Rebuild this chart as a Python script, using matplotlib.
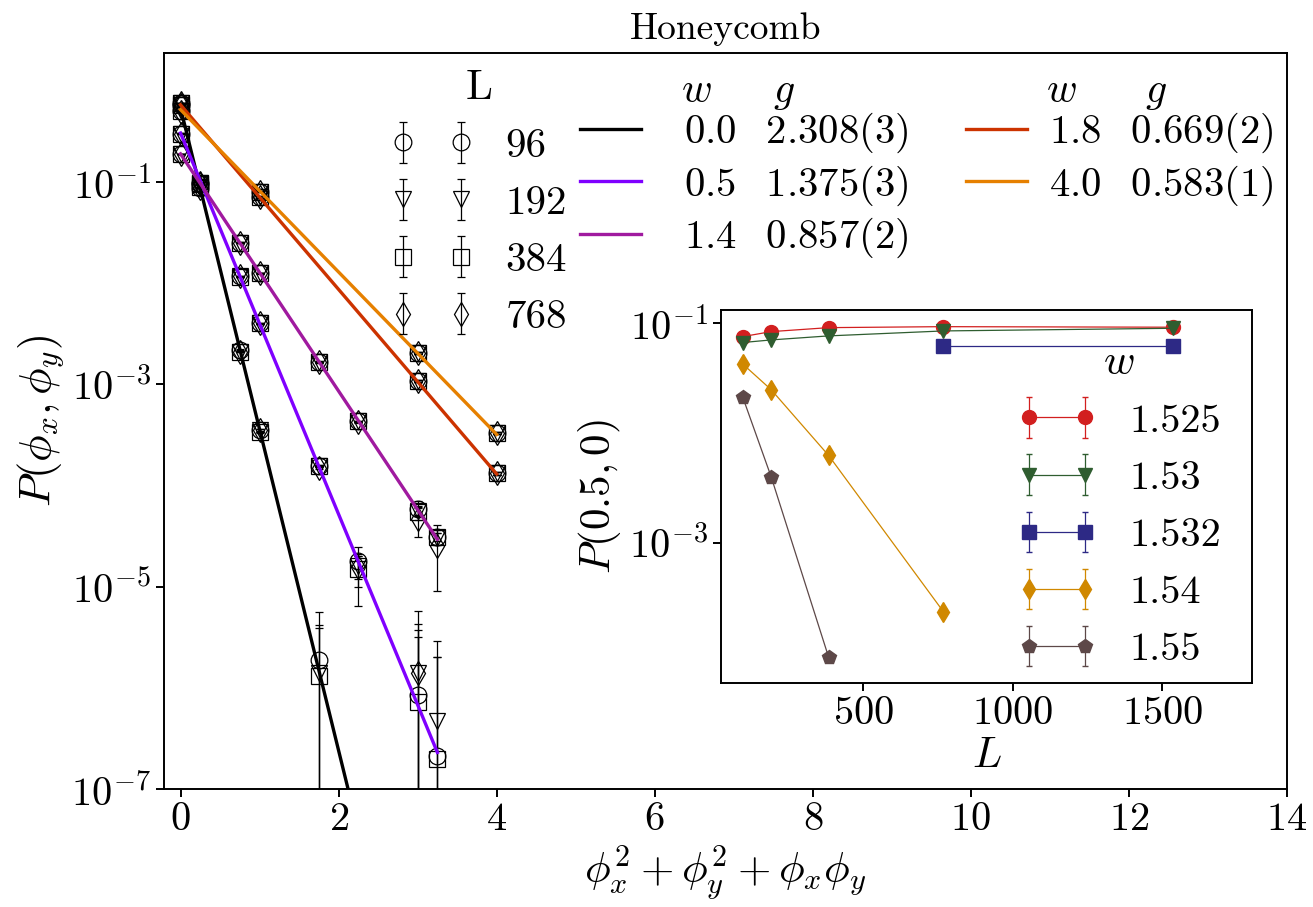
import numpy as np
import matplotlib
matplotlib.use('Agg')
import matplotlib.pyplot as plt
from matplotlib.ticker import FixedLocator, NullLocator

plt.rcParams['font.family'] = 'serif'
plt.rcParams['font.serif'] = ['cmr10']
plt.rcParams['mathtext.fontset'] = 'cm'
plt.rcParams['axes.unicode_minus'] = False
plt.rcParams['axes.formatter.use_mathtext'] = True

# ---- main plot data: P(phi_x, phi_y) for the different L (rows) ----
L_sizes = [96, 192, 384, 768]
L_markers = ['o', 'v', 's', 'd']

x_w00 = [0.0, 0.25, 0.75, 1.0, 1.75]
p_w00 = [[0.50, 0.088, 2.2e-3, 3.5e-4, 1.9e-6],
         [0.50, 0.088, 2.1e-3, 3.5e-4, 1.4e-6],
         [0.50, 0.089, 2.1e-3, 3.4e-4, 1.3e-6],
         [0.49, 0.088, 2.1e-3, 3.5e-4, np.nan]]
e_w00 = [[0.002, 0.001, 3e-5, 8e-6, 3.7e-6],
         [0.002, 0.001, 3e-5, 8e-6, 2.8e-6],
         [0.002, 0.001, 3e-5, 8e-6, 2.6e-6],
         [0.002, 0.001, 3e-5, 8e-6, np.nan]]

x_w05 = [0.0, 0.25, 0.75, 1.0, 1.75, 2.25, 3.0, 3.25]
p_w05 = [[0.30, 0.095, 0.0117, 4.0e-3, 1.55e-4, 1.8e-5, 8.5e-7, 2.1e-7],
         [0.30, 0.095, 0.0117, 4.0e-3, 1.55e-4, 1.6e-5, 1.4e-6, 4.7e-7],
         [0.30, 0.095, 0.0116, 4.0e-3, 1.55e-4, 1.5e-5, 7.3e-7, 2.0e-7],
         [0.30, 0.096, 0.0117, 4.0e-3, 1.50e-4, 1.55e-5, 1.4e-6, np.nan]]
e_w05 = [[0.002, 0.001, 2e-4, 6e-5, 4e-6, 3e-6, 4.85e-6, 1.8e-6],
         [0.002, 0.001, 2e-4, 6e-5, 4e-6, 4e-6, 2.9e-6, 2.45e-6],
         [0.002, 0.001, 2e-4, 6e-5, 4e-6, 5e-6, 3.0e-6, 1.8e-6],
         [0.002, 0.001, 2e-4, 6e-5, 5e-6, 9e-6, 1.8e-6, np.nan]]

x_w14 = [0.0, 0.25, 0.75, 1.0, 1.75, 2.25, 3.0, 3.25]
p_w14 = [[0.19, 0.098, 0.025, 0.0126, 1.68e-3, 4.3e-4, 5.8e-5, 3.1e-5],
         [0.19, 0.097, 0.025, 0.0126, 1.68e-3, 4.3e-4, 5.6e-5, 3.0e-5],
         [0.19, 0.098, 0.025, 0.0125, 1.66e-3, 4.3e-4, 5.5e-5, 3.1e-5],
         [0.19, 0.097, 0.025, 0.0126, 1.65e-3, 4.2e-4, 4.7e-5, 2.5e-5]]
e_w14 = [[0.001, 0.001, 3e-4, 1e-4, 2e-5, 6e-6, 1.2e-5, 3e-6],
         [0.001, 0.001, 3e-4, 1e-4, 2e-5, 6e-6, 5e-6, 4e-6],
         [0.001, 0.001, 3e-4, 1e-4, 2e-5, 6e-6, 5e-6, 5e-6],
         [0.001, 0.001, 3e-4, 1e-4, 3e-5, 8e-6, 1.6e-5, 1.6e-5]]

x_w18 = [0.0, 1.0, 3.0, 4.0]
p_w18 = [[0.60, 0.071, 1.08e-3, 1.32e-4]] * 4
e_w18 = [[0.003, 0.001, 2e-5, 4e-6]] * 4

x_w40 = [0.0, 1.0, 3.0, 4.0]
p_w40 = [[0.58, 0.080, 2.04e-3, 3.3e-4]] * 4
e_w40 = [[0.003, 0.001, 3e-5, 8e-6]] * 4

# fitted lines (end points)
w_labels = ['0.0', '0.5', '1.4', '1.8', '4.0']
g_labels = ['2.308(3)', '1.375(3)', '0.857(2)', '0.669(2)', '0.583(1)']
fit_colors = ['black', '#7f00ff', '#a01a9f', '#cc3300', '#e68000']
fit_x = [[0.0, 2.12], [0.0, 3.25], [0.0, 3.25], [0.0, 4.0], [0.0, 4.0]]
fit_p = [[0.54, 1e-7], [0.305, 2.3e-7], [0.19, 2.94e-5], [0.58, 1.3e-4], [0.52, 3.2e-4]]

# ---- inset data: P(0.5, 0) vs L ----
inset_w = ['1.525', '1.53', '1.532', '1.54', '1.55']
inset_colors = ['#d21f1f', '#2f5d30', '#2d2985', '#d08800', '#5d4848']
inset_markers = ['o', 'v', 's', 'd', 'p']
L_1525 = [96, 192, 384, 768, 1536]
p_1525 = [0.0755, 0.0839, 0.0912, 0.0931, 0.092]
L_153 = [96, 192, 384, 768, 1536]
p_153 = [0.0667, 0.0705, 0.0767, 0.0851, 0.090]
L_1532 = [768, 1536]
p_1532 = [0.0622, 0.0622]
L_154 = [96, 192, 384, 768]
p_154 = [0.0427, 0.0248, 0.00625, 2.36e-4]
L_155 = [96, 192, 384]
p_155 = [0.0215, 0.00398, 9.1e-5]
e_1525 = [1e-3, 1e-3, 1e-3, 1e-3, 1e-3]
e_153 = [1e-3, 1e-3, 1e-3, 1e-3, 1e-3]
e_1532 = [1e-3, 1e-3]
e_154 = [5e-4, 3e-4, 8e-5, 5e-6]
e_155 = [3e-4, 6e-5, 8e-6]

W, H = 1313, 907
fig = plt.figure(figsize=(W / 100, H / 100), dpi=100)
ax = fig.add_axes([164 / W, 1 - 789 / H, (1287 - 164) / W, (789 - 52.7) / H])

L_handles = []
for k, (xs, ps, es) in enumerate([(x_w00, p_w00, e_w00), (x_w05, p_w05, e_w05),
                                  (x_w14, p_w14, e_w14), (x_w18, p_w18, e_w18),
                                  (x_w40, p_w40, e_w40)]):
    for i, L in enumerate(L_sizes):
        h = ax.errorbar(xs, ps[i], yerr=es[i], fmt=L_markers[i], ls='none',
                        mfc='none', mec='k', ecolor='k', ms=12, mew=0.9,
                        elinewidth=0.9, capsize=3, capthick=0.9, zorder=2)
        if k == 0:
            L_handles.append(h)

fit_handles = []
for fx, fp, c in zip(fit_x, fit_p, fit_colors):
    ln, = ax.plot(fx, fp, color=c, lw=2.4, zorder=5)
    fit_handles.append(ln)

ax.set_yscale('log')
ax.set_xlim(-0.209, 14)
ax.set_ylim(1e-7, 1.9)
ax.yaxis.set_major_locator(FixedLocator([1e-7, 1e-5, 1e-3, 1e-1]))
ax.yaxis.set_minor_locator(NullLocator())
ax.set_xticks([0, 2, 4, 6, 8, 10, 12, 14])
ax.tick_params(labelsize=29, length=6, width=1.4)
for s in ax.spines.values():
    s.set_linewidth(1.4)
ax.set_xlabel(r'$\phi_x^2+\phi_y^2+\phi_x\phi_y$', fontsize=31)
ax.set_ylabel(r'$P(\phi_x,\phi_y)$', fontsize=32)
ax.set_title('Honeycomb', fontsize=27, pad=10)

leg_L = ax.legend(L_handles, [str(L) for L in L_sizes], title='L', loc='upper left',
                  bbox_to_anchor=(391 / W, 1 - 70 / H), bbox_transform=fig.transFigure,
                  frameon=False, fontsize=29.5, title_fontsize=31, numpoints=2,
                  borderpad=0, borderaxespad=0, labelspacing=0.5)
ax.add_artist(leg_L)

lab = [r'$%s\;\;\;%s$' % (w, g) for w, g in zip(w_labels, g_labels)]
leg_a = ax.legend(fit_handles[:3], lab[:3], loc='upper left',
                  bbox_to_anchor=(580 / W, 1 - 111 / H), bbox_transform=fig.transFigure,
                  frameon=False, fontsize=29.3, handlelength=1.5,
                  handletextpad=1.05, borderpad=0, borderaxespad=0, labelspacing=0.2)
ax.add_artist(leg_a)
leg_b = ax.legend(fit_handles[3:], lab[3:], loc='upper left',
                  bbox_to_anchor=(966 / W, 1 - 111 / H), bbox_transform=fig.transFigure,
                  frameon=False, fontsize=29.3, handlelength=1.5,
                  handletextpad=0.55, borderpad=0, borderaxespad=0, labelspacing=0.2)
# column headers of the w / g legends
for hx, ht in [(681, '$w$'), (773, '$g$'), (1046, '$w$'), (1145, '$g$')]:
    fig.text(hx / W, 1 - 102 / H, ht, fontsize=30, ha='left', va='baseline')

# ---- inset ----
axi = fig.add_axes([721 / W, 1 - 683 / H, (1252 - 721) / W, (683 - 310) / H])
in_handles = []
for Ls, ps, es, c, m in zip([L_1525, L_153, L_1532, L_154, L_155],
                            [p_1525, p_153, p_1532, p_154, p_155],
                            [e_1525, e_153, e_1532, e_154, e_155],
                            inset_colors, inset_markers):
    h = axi.errorbar(Ls, ps, yerr=es, fmt=m + '-', color=c, ms=10, lw=0.9,
                     elinewidth=0.9, capsize=2.5)
    in_handles.append(h)
axi.set_yscale('log')
axi.set_xlim(24, 1800)
axi.set_ylim(5.3e-5, 0.132)
axi.yaxis.set_major_locator(FixedLocator([1e-3, 1e-1]))
axi.yaxis.set_minor_locator(NullLocator())
axi.set_xticks([500, 1000, 1500])
axi.tick_params(labelsize=29, length=6, width=1.4)
for s in axi.spines.values():
    s.set_linewidth(1.4)
axi.set_xlabel('$L$', fontsize=31)
axi.set_ylabel('$P(0.5,0)$', fontsize=31)
axi.legend(in_handles, inset_w, title='$w$', loc='upper left',
           bbox_to_anchor=(1017 / W, 1 - 345 / H), bbox_transform=fig.transFigure,
           frameon=False, fontsize=29, title_fontsize=31, numpoints=2,
           borderpad=0, borderaxespad=0, labelspacing=0.52)

fig.savefig('out.png', dpi=100)
